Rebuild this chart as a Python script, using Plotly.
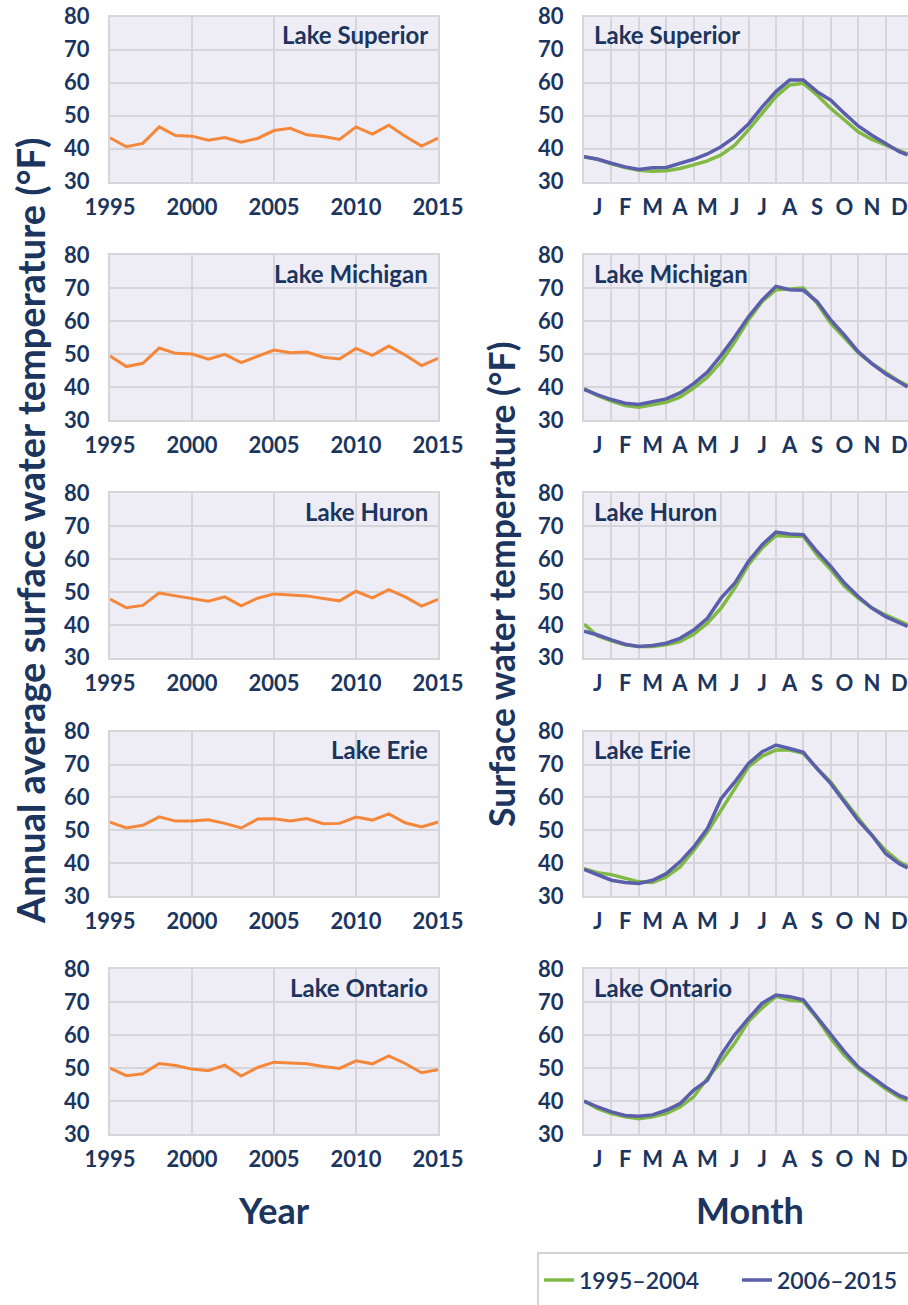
import plotly.graph_objects as go

W, H = 908, 1305
NAVY = "#1B355E"
ORANGE = "#F5873A"
GREEN = "#80B944"
BLUE = "#5B5EAB"
PLOTBG = "#EEEDF5"
GRID = "#D6D6DA"
FONT = "Lato"

lakes = ["Lake Superior", "Lake Michigan", "Lake Huron", "Lake Erie", "Lake Ontario"]

years = list(range(1995, 2016))
annual_superior = [43.3, 40.6, 41.6, 46.6, 44.0, 43.8, 42.6, 43.4, 42.0, 43.1, 45.5,
                   46.2, 44.2, 43.7, 42.8, 46.6, 44.4, 47.1, 43.8, 40.8, 43.2]
annual_michigan = [49.4, 46.2, 47.2, 51.8, 50.2, 50.0, 48.4, 49.9, 47.4, 49.2, 51.2,
                   50.4, 50.6, 49.0, 48.5, 51.7, 49.6, 52.4, 49.7, 46.5, 48.7]
annual_huron = [47.8, 45.2, 45.9, 49.7, 48.8, 48.1, 47.2, 48.5, 45.8, 48.1, 49.4,
                49.1, 48.8, 48.0, 47.3, 50.2, 48.2, 50.7, 48.5, 45.7, 47.7]
annual_erie = [52.5, 50.7, 51.5, 54.1, 52.8, 52.8, 53.2, 52.1, 50.7, 53.4, 53.5,
               52.8, 53.6, 52.0, 52.1, 54.0, 53.1, 55.0, 52.3, 51.0, 52.5]
annual_ontario = [50.0, 47.7, 48.3, 51.4, 50.8, 49.7, 49.2, 50.9, 47.6, 50.2, 51.8,
                  51.6, 51.3, 50.5, 49.9, 52.2, 51.3, 53.7, 51.4, 48.6, 49.5]

# position within the year, in months from 1 January
month_pos = [0, 0.5, 1, 1.5, 2, 2.5, 3, 3.5, 4, 4.5, 5, 5.5, 6, 6.5, 7, 7.5, 8,
             8.5, 9, 9.5, 10, 10.5, 11, 11.5, 11.8]
month_labels = ["J", "F", "M", "A", "M", "J", "J", "A", "S", "O", "N", "D"]

superior_early = [37.6, 36.8, 35.4, 34.3, 33.5, 33.2, 33.3, 34.0, 35.1, 36.3, 38.1, 41.1, 45.7,
                  50.7, 55.8, 59.3, 59.8, 56.3, 52.2, 48.7, 45.1, 42.8, 41.1, 39.6, 38.4]
superior_late = [37.6, 36.8, 35.6, 34.5, 33.7, 34.2, 34.3, 35.6, 36.8, 38.4, 40.6, 43.6, 47.5,
                 52.7, 57.3, 60.8, 60.8, 57.3, 54.7, 50.7, 46.9, 44.1, 41.6, 39.1, 38.1]
michigan_early = [39.5, 37.4, 35.7, 34.4, 33.9, 34.6, 35.4, 36.9, 39.7, 43.0, 47.6, 53.7, 60.3,
                  65.9, 69.5, 69.7, 70.0, 65.4, 59.3, 54.9, 50.4, 47.1, 44.3, 41.7, 40.5]
michigan_late = [39.3, 37.6, 36.2, 35.1, 34.7, 35.6, 36.4, 38.2, 41.0, 44.5, 49.6, 55.2, 61.3,
                 66.4, 70.5, 69.5, 69.3, 65.9, 60.3, 55.7, 50.7, 47.1, 44.0, 41.5, 40.0]
huron_early = [40.2, 36.6, 35.1, 33.9, 33.4, 33.4, 33.9, 34.9, 37.1, 40.5, 45.1, 51.2, 58.3,
               63.4, 67.2, 66.9, 66.9, 61.3, 56.8, 51.7, 48.1, 45.1, 43.0, 41.0, 40.0]
huron_late = [38.1, 36.9, 35.4, 34.1, 33.4, 33.7, 34.4, 35.9, 38.4, 42.0, 48.1, 52.7, 59.3,
              64.4, 68.2, 67.6, 67.4, 62.3, 57.8, 52.7, 48.6, 45.1, 42.5, 40.5, 39.5]
erie_early = [38.3, 37.1, 36.5, 35.5, 34.3, 34.1, 35.8, 38.8, 43.9, 49.5, 56.1, 62.7, 69.3,
              72.6, 74.4, 74.4, 73.4, 68.8, 64.7, 59.1, 53.6, 48.5, 43.9, 40.4, 39.1]
erie_late = [38.1, 36.5, 34.8, 34.1, 33.8, 34.8, 36.8, 40.4, 44.9, 50.5, 59.6, 64.7, 70.3,
             73.9, 75.9, 74.9, 73.7, 68.8, 64.2, 58.6, 53.0, 48.5, 42.9, 39.8, 38.5]
ontario_early = [40.0, 37.7, 36.2, 35.2, 34.6, 35.2, 36.2, 38.2, 41.3, 46.9, 52.0, 57.6, 64.2,
                 68.3, 71.8, 70.7, 70.2, 65.1, 59.0, 53.9, 49.8, 46.8, 43.7, 41.1, 40.1]
ontario_late = [40.0, 38.2, 36.7, 35.6, 35.4, 35.8, 37.2, 39.2, 43.3, 46.3, 54.0, 60.1, 65.1,
                69.7, 72.2, 71.7, 70.7, 65.6, 60.1, 55.0, 50.4, 47.4, 44.3, 41.7, 40.7]

annual = [annual_superior, annual_michigan, annual_huron, annual_erie, annual_ontario]
early = [superior_early, michigan_early, huron_early, erie_early, ontario_early]
late = [superior_late, michigan_late, huron_late, erie_late, ontario_late]
period_names = ["1995–2004", "2006–2015"]

# panel geometry in page pixels
tops = [16.7, 255.0, 493.3, 731.7, 969.3]
bottoms = [181.7, 420.0, 657.7, 896.0, 1134.0]
LEFT_X = (110, 438)
RIGHT_X = (584, 913)


def px(x):
    return x / W


def py(y):
    return 1 - y / H


fig = go.Figure()
tickfont = dict(family=FONT, size=22, color=NAVY, weight="bold")
common_axis = dict(showgrid=True, gridcolor=GRID, gridwidth=2, showline=True, linecolor=GRID,
                   linewidth=2, mirror=True, zeroline=False, ticks="outside", ticklen=5,
                   tickcolor="rgba(0,0,0,0)", tickfont=tickfont, fixedrange=True,
                   automargin=False, ticklabeloverflow="allow")

annotations = []
for i, lake in enumerate(lakes):
    yd = [py(bottoms[i]), py(tops[i])]
    la, lb = 2 * i + 1, 2 * i + 2
    xa_l = "x" if la == 1 else f"x{la}"
    ya_l = "y" if la == 1 else f"y{la}"
    xa_r, ya_r = f"x{lb}", f"y{lb}"

    fig.add_trace(go.Scatter(x=years, y=annual[i], mode="lines", xaxis=xa_l, yaxis=ya_l,
                             line=dict(color=ORANGE, width=3), showlegend=False))
    fig.add_trace(go.Scatter(x=month_pos, y=early[i], mode="lines", xaxis=xa_r, yaxis=ya_r,
                             line=dict(color=GREEN, width=3.5), name=period_names[0],
                             showlegend=(i == 0), legendrank=1))
    fig.add_trace(go.Scatter(x=month_pos, y=late[i], mode="lines", xaxis=xa_r, yaxis=ya_r,
                             line=dict(color=BLUE, width=3.5), name=period_names[1],
                             showlegend=(i == 0), legendrank=2))

    kx_l = "xaxis" if la == 1 else f"xaxis{la}"
    ky_l = "yaxis" if la == 1 else f"yaxis{la}"
    fig.layout[kx_l] = dict(common_axis, domain=[px(LEFT_X[0]), px(LEFT_X[1])], range=[1995, 2015],
                            tickvals=[1995, 2000, 2005, 2010, 2015], anchor=ya_l)
    fig.layout[ky_l] = dict(common_axis, domain=yd, range=[30, 80], dtick=10, tick0=30, anchor=xa_l,
                            ticklen=14)
    fig.layout[f"xaxis{lb}"] = dict(common_axis, domain=[px(RIGHT_X[0]), 1.0],
                                    range=[0, 12 * (W - RIGHT_X[0]) / (RIGHT_X[1] - RIGHT_X[0])],
                                    tickvals=[m + 0.5 for m in range(12)], ticktext=month_labels,
                                    showgrid=False, anchor=ya_r,
                                    minor=dict(tick0=0, dtick=1, showgrid=True, gridcolor=GRID,
                                               gridwidth=2))
    fig.layout[f"yaxis{lb}"] = dict(common_axis, domain=yd, range=[30, 80], dtick=10, tick0=30,
                                    anchor=xa_r, ticklen=14)

    annotations.append(dict(text=lake, xref="paper", yref="paper", x=px(LEFT_X[1] - 8),
                            y=py(tops[i] + 18), xanchor="right", yanchor="middle", showarrow=False,
                            font=dict(family=FONT, size=24, color=NAVY, weight="bold")))
    annotations.append(dict(text=lake, xref="paper", yref="paper", x=px(RIGHT_X[0] + 8),
                            y=py(tops[i] + 18), xanchor="left", yanchor="middle", showarrow=False,
                            font=dict(family=FONT, size=24, color=NAVY, weight="bold")))

annotations += [
    dict(text="Annual average surface water temperature (°F)", xref="paper", yref="paper",
         x=px(30), y=py(531), textangle=-90, showarrow=False,
         font=dict(family=FONT, size=38, color=NAVY, weight="bold"),
         xanchor="center", yanchor="middle"),
    dict(text="Surface water temperature (°F)", xref="paper", yref="paper",
         x=px(501), y=py(585), textangle=-90, showarrow=False,
         font=dict(family=FONT, size=35.5, color=NAVY, weight="bold"),
         xanchor="center", yanchor="middle"),
    dict(text="Year", xref="paper", yref="paper", x=px(274), y=py(1210), showarrow=False,
         font=dict(family=FONT, size=36, color=NAVY, weight="bold"), xanchor="center",
         yanchor="middle"),
    dict(text="Month", xref="paper", yref="paper", x=px(750), y=py(1210), showarrow=False,
         font=dict(family=FONT, size=36, color=NAVY, weight="bold"), xanchor="center",
         yanchor="middle"),
]

fig.update_layout(
    width=W, height=H,
    margin=dict(l=0, r=0, t=0, b=0, pad=0, autoexpand=False),
    paper_bgcolor="white",
    plot_bgcolor=PLOTBG,
    annotations=annotations,
    shapes=[dict(type="rect", xref="paper", yref="paper", x0=px(538), x1=px(930),
                 y0=py(1330), y1=py(1253), line=dict(color="#D4D4D8", width=2),
                 fillcolor="rgba(0,0,0,0)", layer="below")],
    showlegend=True,
    legend=dict(orientation="h", x=px(539), y=py(1280), xanchor="left", yanchor="middle",
                font=dict(family=FONT, size=23, color=NAVY, weight=600), bgcolor="rgba(0,0,0,0)",
                borderwidth=0, entrywidth=153, entrywidthmode="pixels", itemclick=False,
                itemdoubleclick=False),
)

# remove the default page margin so the figure fills the 908x1305 window exactly
fig.write_html("out.html", config={"displayModeBar": False},
               post_script="document.body.style.margin='0px';document.body.style.overflow='hidden';")
